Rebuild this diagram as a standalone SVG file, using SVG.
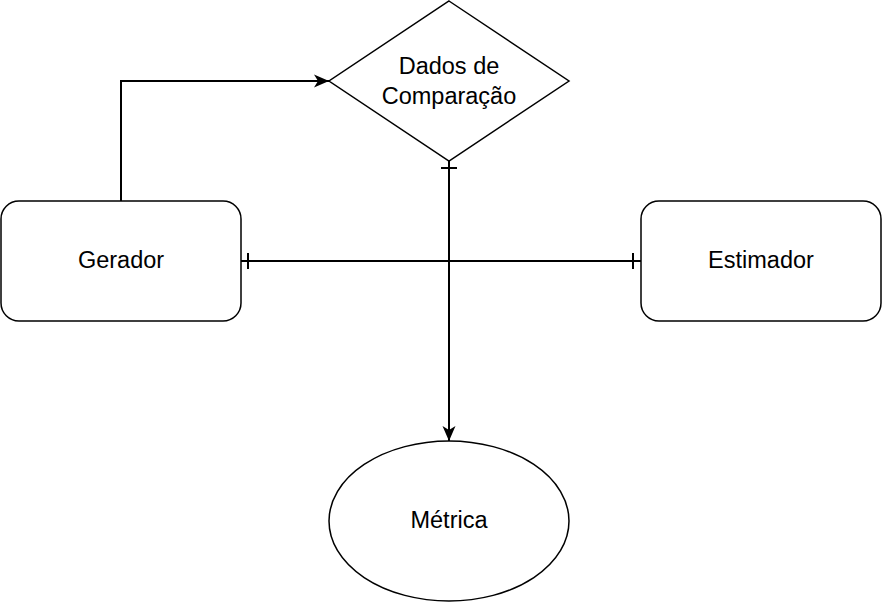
<svg xmlns="http://www.w3.org/2000/svg" width="882" height="602" viewBox="0 0 882 602">
<style>
.shape{fill:#fff;stroke:#000;stroke-width:1.5}
.lbl{font-family:"Liberation Sans",Arial,sans-serif;font-size:23.5px;fill:#000;text-anchor:middle;dominant-baseline:central}
.edge{fill:none;stroke:#000;stroke-width:2}
</style>
<defs>
<marker id="arr" markerWidth="16" markerHeight="16" viewBox="0 0 16 16" refX="15" refY="8" orient="auto" markerUnits="userSpaceOnUse">
<path d="M0,1.5 L15,8 L0,14.5 L4,8 Z" fill="#000"/>
</marker>
</defs>
<g id="connectors">
<path class="edge" d="M121,201 V81 H329" marker-end="url(#arr)"/>
<path class="edge" d="M449,161 V441" marker-end="url(#arr)"/>
<path class="edge" d="M441,168 H457"/>
<path class="edge" d="M241,261 H641"/>
<path class="edge" d="M248,253 V269"/>
<path class="edge" d="M633,253 V269"/>
</g>
<g id="dados">
<polygon class="shape" points="449,1 569,81 449,161 329,81"/>
<text class="lbl" x="449" y="66">Dados de</text>
<text class="lbl" x="449" y="96">Comparação</text>
</g>
<g id="gerador">
<rect class="shape" x="1" y="201" width="240" height="120" rx="18"/>
<text class="lbl" x="121" y="260">Gerador</text>
</g>
<g id="estimador">
<rect class="shape" x="641" y="201" width="240" height="120" rx="18"/>
<text class="lbl" x="761" y="260">Estimador</text>
</g>
<g id="metrica">
<ellipse class="shape" cx="449" cy="521" rx="120" ry="80"/>
<text class="lbl" x="449" y="520">Métrica</text>
</g>
</svg>
